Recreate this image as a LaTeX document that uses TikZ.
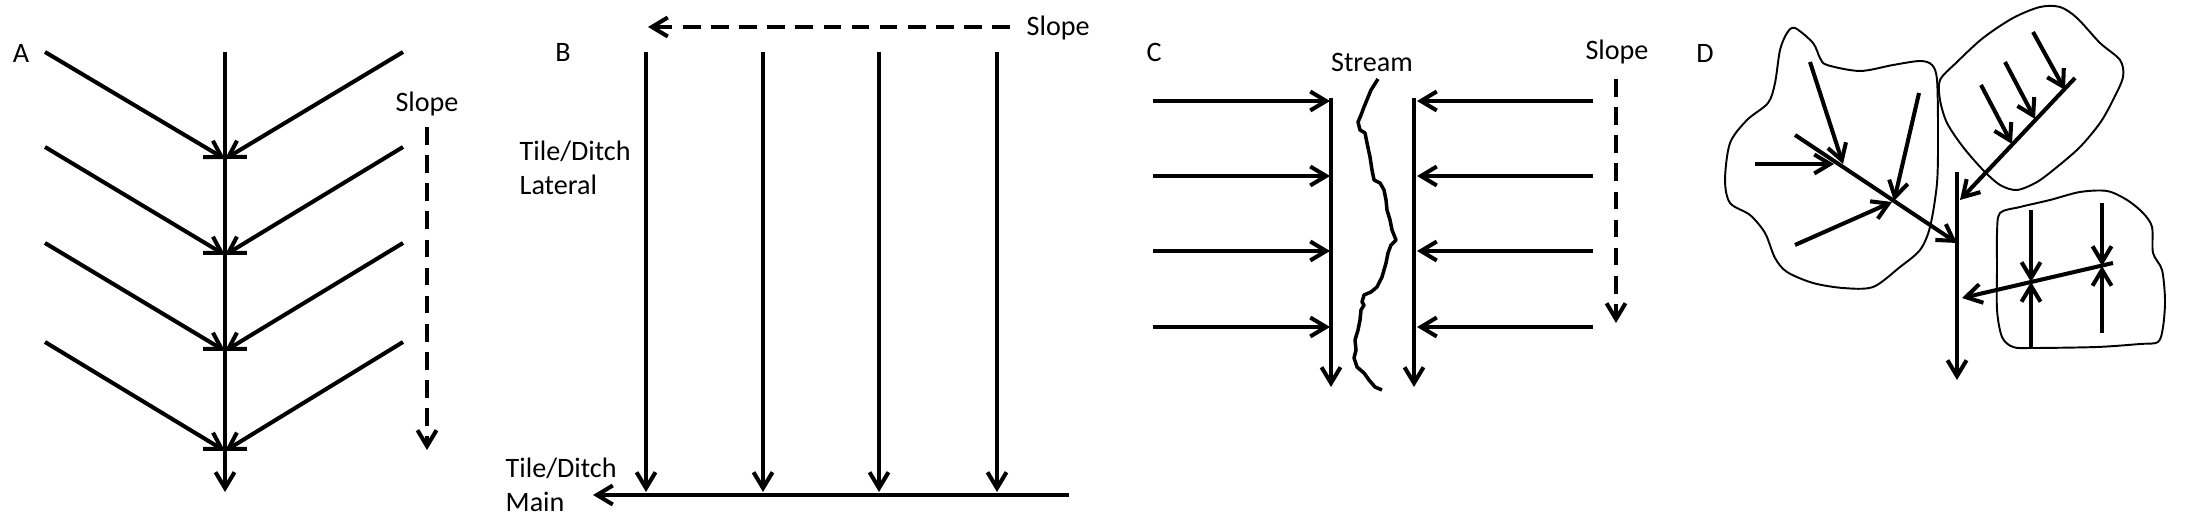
\documentclass[tikz,border=0pt]{standalone}
\usepackage{fontspec}
\setmainfont{Carlito}
\usepackage{tikz}
\usetikzlibrary{positioning, arrows.meta}

\begin{document}
\begin{tikzpicture}[
  x=0.01cm, y=-0.01cm,
  lbl/.style={font=\fontsize{8}{9.5}\selectfont, inner sep=0pt},
  arr/.style={-{Straight Barb[length=4.5pt, width=5.4pt]}, line width=1.15pt},
  slp/.style={arr, dash pattern=on 5pt off 3pt},
  rim/.style={line width=0.55pt, line join=round},
  brook/.style={line width=1pt, line join=round}
]
  \useasboundingbox (0,0) rectangle (2188,525);

  % A: herringbone
  \node[lbl] (la) at (21,53) {A};
  \coordinate (amTop) at (225,52);
  \coordinate (amEnd) at (225,492);
  \foreach \i/\y/\j in {1/52/159, 2/147/255, 3/243/351, 4/342/451} {
    \coordinate (aj\i) at (225,\j);
    \coordinate (al\i) at (45,\y);
    \coordinate (ar\i) at (403,\y);
    \draw[arr] (al\i) -- (aj\i);
    \draw[arr] (ar\i) -- (aj\i);
  }
  \draw[arr] (amTop) -- (amEnd);
  \node[lbl] (aslope) at (427,104) {Slope};
  \coordinate (asTop) at (427,127);
  \coordinate (asEnd) at (427,450);
  \draw[slp] (asTop) -- (asEnd);

  % B: parallel laterals into a main
  \node[lbl] (lb) at (563,52) {B};
  \node[lbl, anchor=west, align=left] (blat) at (519,168) {Tile/Ditch\\Lateral};
  \node[lbl, anchor=west, align=left] (bmain) at (505,485) {Tile/Ditch\\Main};
  \foreach \i/\x in {1/646, 2/763, 3/879, 4/997} {
    \coordinate (bt\i) at (\x,52);
    \coordinate (bb\i) at (\x,492);
    \draw[arr] (bt\i) -- (bb\i);
  }
  \coordinate (bmR) at (1069,495);
  \coordinate (bmL) at (593,495);
  \draw[arr] (bmR) -- (bmL);
  \coordinate (bsR) at (1010,27);
  \coordinate (bsL) at (648,27);
  \draw[slp] (bsR) -- (bsL);
  \node[lbl, anchor=west] (bslope) at (1026,28) {Slope};

  % C: interceptors along a stream
  \node[lbl] (lc) at (1154,52) {C};
  \node[lbl] (cstream) at (1372,62) {Stream};
  \foreach \i/\y in {1/101, 2/176, 3/251, 4/327} {
    \coordinate (cl\i) at (1153,\y);
    \coordinate (cr\i) at (1593,\y);
    \draw[arr] (cl\i) -- (1330,\y);
    \draw[arr] (cr\i) -- (1417,\y);
  }
  \coordinate (clTop) at (1331,98);
  \coordinate (clEnd) at (1331,387);
  \coordinate (crTop) at (1414,98);
  \coordinate (crEnd) at (1414,387);
  \draw[arr] (clTop) -- (clEnd);
  \draw[arr] (crTop) -- (crEnd);
  \draw[brook] (1378,79) -- (1371,90) -- (1364,107) -- (1361,115) -- (1358,122)
    -- (1360,130) -- (1365,133) -- (1367,143) -- (1370,157) -- (1372,170)
    -- (1374,180) -- (1380,183) -- (1384,190) -- (1386,200) -- (1387,210)
    -- (1390,220) -- (1392,230) -- (1396,240) -- (1391,245) -- (1388,253)
    -- (1386,263) -- (1382,277) -- (1377,287) -- (1371,292) -- (1364,295)
    -- (1362,302) -- (1364,305) -- (1361,310) -- (1360,320) -- (1358,330)
    -- (1355,340) -- (1356,350) -- (1354,358) -- (1357,367) -- (1364,373)
    -- (1369,380) -- (1375,387) -- (1382,390);
  \node[lbl] (cslope) at (1617,52) {Slope};
  \coordinate (csTop) at (1616,79);
  \coordinate (csEnd) at (1616,323);
  \draw[slp] (csTop) -- (csEnd);

  % D: natural / random fields
  \node[lbl] (ld) at (1705,53) {D};
  \draw[rim] plot[smooth cycle, tension=0.5] coordinates {
    (1795,28) (1813,43) (1820,58) (1827,65) (1860,71) (1893,65) (1920,61)
    (1932,65) (1937,80) (1938,133) (1937,183) (1930,227) (1920,250) (1900,267)
    (1873,287) (1843,288) (1813,283) (1787,272) (1775,258) (1765,233) (1750,215)
    (1730,203) (1725,180) (1730,143) (1747,120) (1768,103) (1775,83) (1780,50)
    (1787,33)};
  \draw[rim] plot[smooth cycle, tension=0.5] coordinates {
    (1940,80) (1957,62) (1983,38) (2013,18) (2040,7) (2060,7) (2077,18)
    (2100,43) (2120,60) (2123,77) (2113,100) (2100,123) (2080,147) (2057,167)
    (2037,182) (2017,190) (2000,185) (1983,170) (1963,147) (1947,123) (1940,100)};
  \draw[rim] plot[smooth cycle, tension=0.5] coordinates {
    (2000,213) (2020,207) (2050,200) (2080,192) (2107,191) (2127,200) (2143,213)
    (2152,227) (2153,253) (2162,270) (2165,300) (2163,327) (2158,342) (2140,344)
    (2097,347) (2033,348) (2013,347) (2002,337) (1997,310) (1997,267) (1997,233)};

  \coordinate (dmTop) at (1957,172);
  \coordinate (dmEnd) at (1957,380);
  \draw[arr] (dmTop) -- (dmEnd);
  % left field
  \coordinate (d1a) at (1795,135);
  \coordinate (d1b) at (1957,243);
  \coordinate (d1p) at (1843,164);
  \coordinate (d1q) at (1894,201);
  \draw[arr] (d1a) -- (d1b);
  \draw[arr] (1810,62) -- (d1p);
  \draw[arr] (1755,164) -- (1834,164);
  \draw[arr] (1919,93) -- (d1q);
  \draw[arr] (1795,245) -- (1892,202);
  % upper field
  \coordinate (d2a) at (2075,78);
  \coordinate (d2b) at (1960,200);
  \draw[arr] (d2a) -- (d2b);
  \draw[arr] (2033,32) -- (2065,90);
  \draw[arr] (2005,62) -- (2035,119);
  \draw[arr] (1981,85) -- (2012,144);
  % lower field
  \coordinate (d3a) at (2113,263);
  \coordinate (d3b) at (1962,298);
  \coordinate (d3p) at (2031,282);
  \coordinate (d3q) at (2102,266);
  \draw[arr] (d3a) -- (d3b);
  \draw[arr] (2031,210) -- (d3p);
  \draw[arr] (2031,348) -- (d3p);
  \draw[arr] (2102,203) -- (d3q);
  \draw[arr] (2102,333) -- (d3q);
\end{tikzpicture}
\end{document}
